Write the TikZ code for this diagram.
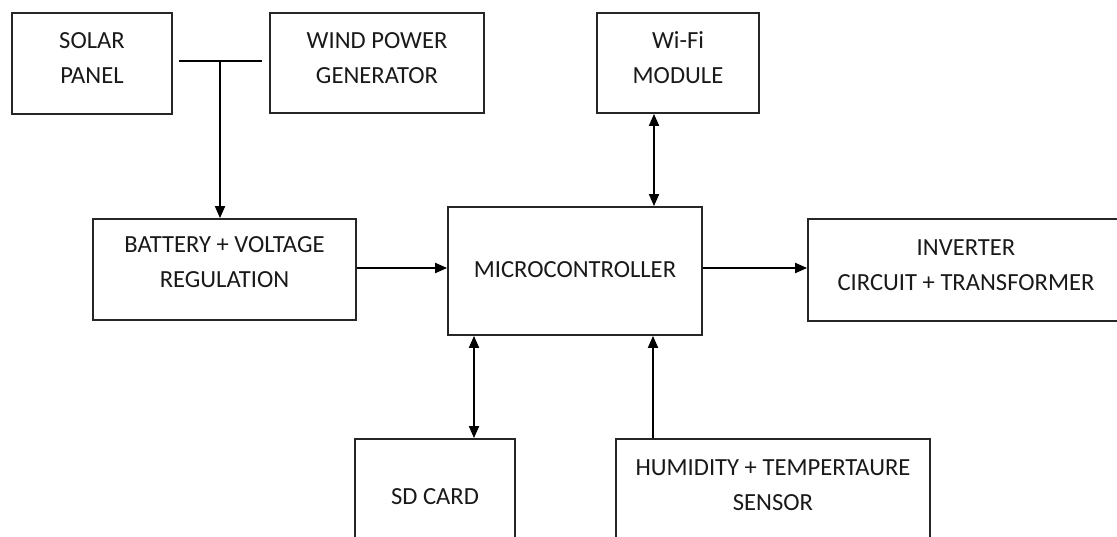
\documentclass[tikz,border=0pt]{standalone}
\usepackage{fontspec}
\setmainfont{Carlito}
\usetikzlibrary{arrows.meta}
\tikzset{
  blk/.style={draw=black!85, line width=1.8pt, inner sep=0pt},
  lbl/.style={align=center, font=\fontsize{24.6}{35}\selectfont, text=black!90},
  arr/.style={line width=1.8pt, -{Triangle[length=12pt, width=10pt]}},
  darr/.style={line width=1.8pt, {Triangle[length=12pt, width=10pt]}-{Triangle[length=12pt, width=10pt]}}
}

\begin{document}
\begin{tikzpicture}[x=1pt, y=-1pt]
  \useasboundingbox (0,0) rectangle (1117,537);
  % sources
  \node[blk, minimum width=160, minimum height=101, label={[lbl, name=solar-t, yshift=5.5]center:SOLAR\\PANEL}] (solar) at (92,63.5) {};
  \node[blk, minimum width=214, minimum height=100, label={[lbl, name=wind-t, yshift=4.5]center:WIND POWER\\GENERATOR}] (wind) at (377,63) {};
  \node[blk, minimum width=162, minimum height=100, label={[lbl, name=wifi-t, yshift=5]center:Wi-Fi\\MODULE}] (wifi) at (678,63) {};
  % middle row
  \node[blk, minimum width=263, minimum height=101, label={[lbl, name=batt-t, yshift=7.5]center:BATTERY + VOLTAGE\\REGULATION}] (batt) at (224.5,269.5) {};
  \node[blk, minimum width=254, minimum height=128, label={[lbl, name=mcu-t, yshift=1]center:MICROCONTROLLER}] (mcu) at (575,271) {};
  \node[blk, minimum width=316, minimum height=102, label={[lbl, name=inv-t, yshift=4.5]center:INVERTER\\CIRCUIT + TRANSFORMER}] (inv) at (966,270) {};
  % bottom row
  \node[blk, minimum width=160, minimum height=110, label={[lbl, name=sd-t, yshift=-3]center:SD CARD}] (sd) at (435,494) {};
  \node[blk, minimum width=314, minimum height=110, label={[lbl, name=sens-t, yshift=9]center:HUMIDITY + TEMPERTAURE\\SENSOR}] (sens) at (773,494) {};

  % connectors
  \coordinate (junc) at (220,61);
  \draw[line width=1.8pt] ([xshift=6]solar.east |- junc) -- ([xshift=-7]wind.west |- junc);
  \draw[arr] (junc) -- (junc |- batt.north);
  \draw[arr] ([yshift=1.5]batt.east) -- ([yshift=1.5]batt.east -| mcu.west);
  \draw[arr] ([yshift=3]mcu.east) -- ([yshift=3]mcu.east -| inv.west);
  \draw[darr] ([xshift=-24]wifi.south) -- ([xshift=-24]wifi.south |- mcu.north);
  \draw[darr] ([xshift=39]sd.north) -- ([xshift=39]sd.north |- mcu.south);
  \draw[arr] ([xshift=-120]sens.north) -- ([xshift=-120]sens.north |- mcu.south);
\end{tikzpicture}
\end{document}
